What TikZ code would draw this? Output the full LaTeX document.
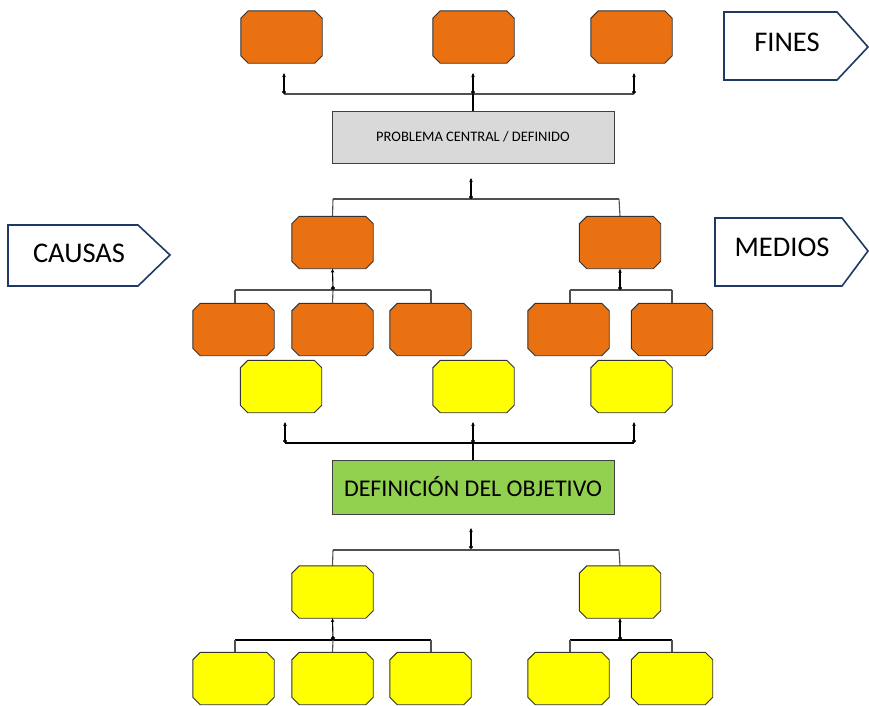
\documentclass[tikz,border=0pt]{standalone}
\usepackage{fontspec}
\setmainfont{Carlito}
\usetikzlibrary{arrows.meta}
\definecolor{org}{RGB}{233,113,17}
\definecolor{yel}{RGB}{255,255,0}
\definecolor{grn}{RGB}{146,208,80}
\definecolor{gry}{RGB}{217,217,217}
\definecolor{navy}{RGB}{31,56,100}
\definecolor{ln}{RGB}{80,80,80}
\newcommand\octbox[3]{%
  \node[octn] (#1) at (#2) {};
  \filldraw[fill=#3, octline]
    ([xshift=7.5pt]#1.north west) -- ([xshift=-7.5pt]#1.north east) --
    ([yshift=-7.5pt]#1.north east) -- ([yshift=7.5pt]#1.south east) --
    ([xshift=-7.5pt]#1.south east) -- ([xshift=7.5pt]#1.south west) --
    ([yshift=7.5pt]#1.south west) -- ([yshift=-7.5pt]#1.north west) -- cycle;}
\begin{document}
\begin{tikzpicture}[x=1pt,y=-1pt,
  octn/.style={rectangle, minimum width=81pt, minimum height=52pt, inner sep=0pt},
  octline/.style={draw=black!80, line width=0.9pt},
  rectbox/.style={rectangle, minimum width=282pt, minimum height=52pt, inner sep=0pt, draw=black!75, line width=0.9pt},
  tag/.style={draw=navy, line width=1.6pt, fill=white},
  tagtxt/.style={font=\fontsize{28.5}{32}\selectfont, text=black},
  hl/.style={draw=ln, line width=1.1pt},
  vl/.style={draw=black, line width=1.1pt},
  arr/.style={draw=black, line width=1.1pt, {Circle[length=4pt]}-{Stealth[length=4pt,width=3.5pt]}},
]
\useasboundingbox (0,0) rectangle (869,705);
\fill[white] (0,0) rectangle (869,705);

% side tags
\draw[tag] (724,12) -- (837,12) -- (868,47) -- (837,80) -- (724,80) -- cycle;
\node[tagtxt] (fines) at (787,42) {FINES};
\draw[tag] (8,225) -- (138,225) -- (170,255) -- (138,286) -- (8,286) -- cycle;
\node[tagtxt] (causas) at (79,253) {CAUSAS};
\draw[tag] (715,218) -- (842,218) -- (868,251) -- (842,286) -- (715,286) -- cycle;
\node[tagtxt] (medios) at (782,247) {MEDIOS};

% top row
\octbox{t1}{281.5,37}{org}
\octbox{t2}{473.5,37}{org}
\octbox{t3}{631.5,37}{org}
% central problem
\node[rectbox, fill=gry, font=\fontsize{14.5}{17}\selectfont] (prob) at (473,137) {PROBLEMA CENTRAL / DEFINIDO};
% level 2 orange
\octbox{c1}{332.5,242.5}{org}
\octbox{c2}{620,242.5}{org}
% level 3 orange
\octbox{c11}{233.5,329.5}{org}
\octbox{c12}{332.5,329.5}{org}
\octbox{c13}{430.5,329.5}{org}
\octbox{c21}{568.5,329.5}{org}
\octbox{c22}{672,329.5}{org}
% yellow row
\octbox{y1}{281,386.5}{yel}
\octbox{y2}{473.5,386.5}{yel}
\octbox{y3}{631.5,386.5}{yel}
% objective
\node[rectbox, fill=grn, minimum height=54pt, font=\fontsize{24}{28}\selectfont] (obj) at (473,487) {DEFINICIÓN DEL OBJETIVO};
% level 2 yellow
\octbox{m1}{332.5,592}{yel}
\octbox{m2}{620,592}{yel}
% bottom yellow
\octbox{m11}{233.5,678.5}{yel}
\octbox{m12}{332.5,678.5}{yel}
\octbox{m13}{430.5,678.5}{yel}
\octbox{m21}{568.5,678.5}{yel}
\octbox{m22}{672,678.5}{yel}

% --- connectors top
\coordinate (jt1) at (284,94); \coordinate (jt2) at (473,94); \coordinate (jt3) at (634,94);
\coordinate (at1) at (284,73); \coordinate (at2) at (473,73); \coordinate (at3) at (634,73);
\draw[hl] (jt1) -- (jt3);
\draw[vl] (jt2) -- (prob.north);
\draw[arr] (jt1) -- (at1);
\draw[arr] (jt2) -- (at2);
\draw[arr] (jt3) -- (at3);

% below problem
\coordinate (jp) at (471,199); \coordinate (ap) at (471,178);
\coordinate (hp1) at (333,199); \coordinate (hp2) at (619,199);
\draw[hl] (hp1) -- (hp2);
\draw[hl] (hp1) -- (c1.north);
\draw[hl] (hp2) -- (c2.north);
\draw[arr] (jp) -- (ap);

% level2 -> level3 orange
\coordinate (jc1) at (333,290); \coordinate (jc2) at (620,290);
\coordinate (hc1a) at (235,290); \coordinate (hc1b) at (431,290);
\coordinate (hc2a) at (570,290); \coordinate (hc2b) at (672,290);
\draw[hl] (hc1a) -- (hc1b);
\draw[hl] (hc1a) -- (hc1a |- c11.north);
\draw[hl] (jc1) -- (c12.north);
\draw[hl] (hc1b) -- (hc1b |- c13.north);
\draw[hl] (hc2a) -- (hc2b);
\draw[hl] (hc2a) -- (hc2a |- c21.north);
\draw[hl] (hc2b) -- (hc2b |- c22.north);
\draw[arr] (jc1) -- (c1.south);
\draw[arr] (jc2) -- (c2.south);

% yellow row -> objective
\coordinate (jy1) at (285,443); \coordinate (jy2) at (473,443); \coordinate (jy3) at (634,443);
\coordinate (ay1) at (285,422); \coordinate (ay2) at (473,422); \coordinate (ay3) at (634,422);
\draw[vl] (jy1) -- (jy3);
\draw[vl] (jy2) -- (obj.north);
\draw[arr] (jy1) -- (ay1);
\draw[arr] (jy2) -- (ay2);
\draw[arr] (jy3) -- (ay3);

% below objective
\coordinate (jo) at (471,549); \coordinate (ao) at (471,528);
\coordinate (ho1) at (333,550); \coordinate (ho2) at (619,550);
\draw[hl] (ho1) -- (ho2);
\draw[hl] (ho1) -- (m1.north);
\draw[hl] (ho2) -- (m2.north);
\draw[arr] (jo) -- (ao);

% level2 yellow -> bottom
\coordinate (jm1) at (333,640); \coordinate (jm2) at (620,640);
\coordinate (hm1a) at (235,640); \coordinate (hm1b) at (431,640);
\coordinate (hm2a) at (570,640); \coordinate (hm2b) at (672,640);
\draw[vl] (hm1a) -- (hm1b);
\draw[hl] (hm1a) -- (hm1a |- m11.north);
\draw[hl] (jm1) -- (m12.north);
\draw[hl] (hm1b) -- (hm1b |- m13.north);
\draw[vl] (hm2a) -- (hm2b);
\draw[hl] (hm2a) -- (hm2a |- m21.north);
\draw[hl] (hm2b) -- (hm2b |- m22.north);
\draw[arr] (jm1) -- (m1.south);
\draw[arr] (jm2) -- (m2.south);
\end{tikzpicture}
\end{document}
